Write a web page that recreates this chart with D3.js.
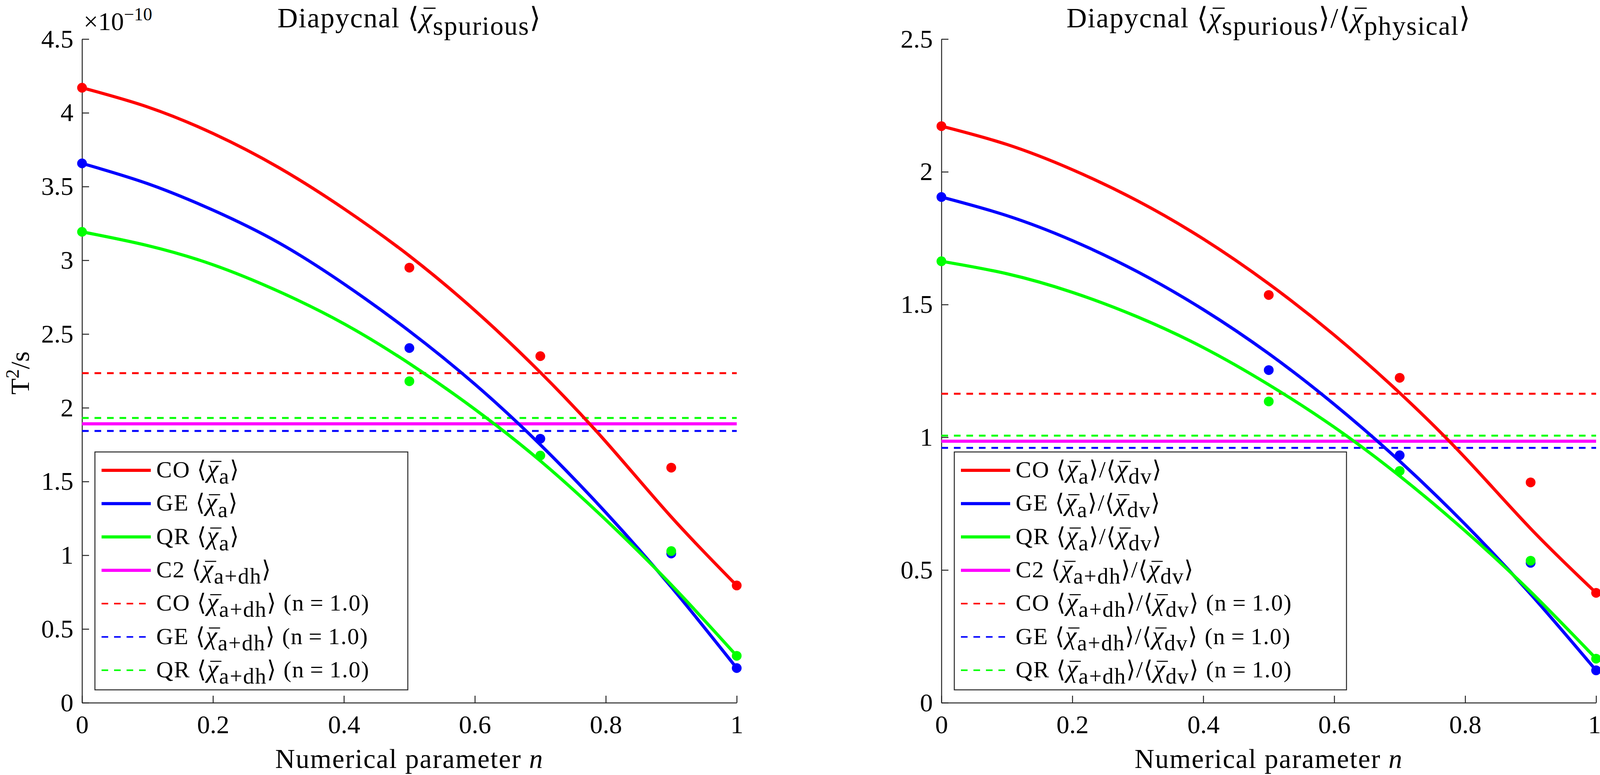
<!DOCTYPE html>
<html>
<head>
<meta charset="utf-8">
<script src="https://cdn.jsdelivr.net/npm/d3@7"></script>
<style>
  body { margin: 0; background: #fff; }
  text { font-family: "Liberation Serif", "DejaVu Serif", serif; fill: #000; white-space: pre; }
</style>
</head>
<body>
<script>
//values
var nSamples = [0, 0.5, 0.7, 0.9, 1.0];
var nFit = [0, 0.1, 0.2, 0.3, 0.4, 0.5, 0.6, 0.7, 0.8, 0.9, 1.0];

//left panel, in units of 1e-10 T^2/s
var coSpurious = [4.17, 2.95, 2.35, 1.594, 0.795];
var geSpurious = [3.657, 2.405, 1.79, 1.012, 0.235];
var qrSpurious = [3.193, 2.18, 1.676, 1.028, 0.318];
var coSpuriousFit = [4.17, 4.04, 3.86, 3.63, 3.35, 3.03, 2.66, 2.24, 1.77, 1.26, 0.795];
var geSpuriousFit = [3.657, 3.52, 3.34, 3.12, 2.84, 2.52, 2.16, 1.75, 1.29, 0.785, 0.235];
var qrSpuriousFit = [3.193, 3.10, 2.97, 2.79, 2.57, 2.30, 1.99, 1.64, 1.24, 0.80, 0.318];
var c2Spurious = 1.891;
var dhSpurious = [2.235, 1.843, 1.931]; //CO, GE, QR with n=1.0

//right panel, spurious / physical
var coRatio = [2.172, 1.536, 1.224, 0.830, 0.414];
var geRatio = [1.905, 1.253, 0.932, 0.527, 0.122];
var qrRatio = [1.663, 1.135, 0.873, 0.535, 0.166];
var coRatioFit = [2.172, 2.103, 2.008, 1.890, 1.747, 1.578, 1.385, 1.167, 0.923, 0.656, 0.414];
var geRatioFit = [1.905, 1.835, 1.741, 1.623, 1.481, 1.315, 1.124, 0.910, 0.672, 0.409, 0.122];
var qrRatioFit = [1.663, 1.616, 1.546, 1.453, 1.338, 1.198, 1.038, 0.854, 0.647, 0.418, 0.166];
var c2Ratio = 0.985;
var dhRatio = [1.164, 0.960, 1.006];

var models = ["CO", "GE", "QR"];
var modelColors = ["#ff0000", "#0000ff", "#00ff00"];
var c2Color = "#ff00ff";
//legend order: 3 fits, C2, 3 dashed levels
var legendColors = modelColors.concat([c2Color], modelColors);

var xTicks = [0, 0.2, 0.4, 0.6, 0.8, 1];
var yTicksLeft = [0, 0.5, 1, 1.5, 2, 2.5, 3, 3.5, 4, 4.5];
var yTicksRight = [0, 0.5, 1, 1.5, 2, 2.5];

var width = 4101,
    height = 1984;

var svg = d3.select("body")
    .append("svg")
    .attr("width", width)
    .attr("height", height);

var axisColor = "#262626";
var plotW = 1676;

//writes a little latex-ish string into a text element
//parts: [string, kind], kind is r (roman), it (italic), chi (barred chi), sub, sup
function richText(textSel, parts, size, chiScale){
    chiScale = chiScale || 1;
    var shift = 0;
    var bars = [];
    var idx = 0;
    parts.forEach(function(p){
        var t = textSel.append("tspan").text(p[0]);
        var target = 0;
        if (p[1] == "sub") target = 0.27 * size;
        if (p[1] == "sup") target = -0.38 * size;
        if (target != shift) t.attr("dy", target - shift);
        shift = target;
        if (p[1] == "sub") t.style("font-size", (0.95 * size) + "px");
        if (p[1] == "sup") t.style("font-size", (0.7 * size) + "px");
        if (p[1] == "it" || p[1] == "chi") t.style("font-style", "italic");
        if (p[1] == "chi") t.style("font-size", (chiScale * size) + "px");
        if (p[1] == "chi") bars.push(idx);
        idx += p[0].length;
    });
    //bars over chi, measured from the laid out glyphs
    var node = textSel.node();
    var parent = d3.select(node.parentNode);
    bars.forEach(function(i){
        var a = node.getStartPositionOfChar(i),
            b = node.getEndPositionOfChar(i);
        parent.append("line")
            .attr("x1", a.x + 0.14 * size)
            .attr("x2", b.x + 0.1 * size)
            .attr("y1", a.y - 0.68 * size)
            .attr("y2", a.y - 0.68 * size)
            .attr("transform", textSel.attr("transform"))
            .attr("stroke", "#000")
            .attr("stroke-width", 0.045 * size);
    });
}

function chi(sub){
    return [["\u27E8", "r"], ["\u03C7", "chi"], [sub, "sub"], ["\u27E9", "r"]];
}

function drawPanel(cfg){
    var g = svg.append("g");

    var x = d3.scaleLinear().domain([0, 1]).range([cfg.left, cfg.left + plotW]);
    var y = d3.scaleLinear().domain([0, cfg.yMax]).range([1799, 100]);

    //axes, ticks point inwards like matlab
    var xAxis = g.append("g")
        .attr("transform", "translate(0,1799)")
        .call(d3.axisBottom(x).tickValues(xTicks).tickSizeInner(-18).tickSizeOuter(0).tickPadding(31)
            .tickFormat(function(d){ return d3.format("")(d); }));
    var yAxis = g.append("g")
        .attr("transform", "translate(" + cfg.left + ",0)")
        .call(d3.axisLeft(y).tickValues(cfg.yTicks).tickSizeInner(-18).tickSizeOuter(0).tickPadding(22)
            .tickFormat(function(d){ return d3.format("")(d); }));
    [xAxis, yAxis].forEach(function(a){
        a.selectAll("path, line").attr("stroke", axisColor).attr("stroke-width", 2.5);
        a.selectAll("text")
            .style("font-size", "66px")
            .style("font-family", "'Liberation Serif', serif")
            .attr("fill", axisColor);
    });
    //the last x label of the right panel sits at the page edge
    if (cfg.pinLastLabel) {
        xAxis.selectAll(".tick").filter(function(d){ return d == 1; }).select("text")
            .attr("text-anchor", "end")
            .attr("x", 12);
    }

    //horizontal reference levels (n=1.0)
    cfg.dh.forEach(function(v, i){
        g.append("line")
            .attr("x1", x(0)).attr("x2", x(1))
            .attr("y1", y(v)).attr("y2", y(v))
            .attr("stroke", modelColors[i])
            .attr("stroke-width", 5)
            .attr("stroke-dasharray", "17,15");
    });
    g.append("line")
        .attr("x1", x(0)).attr("x2", x(1))
        .attr("y1", y(cfg.c2)).attr("y2", y(cfg.c2))
        .attr("stroke", c2Color)
        .attr("stroke-width", 8);

    //fitted curves and the sample dots
    var line = d3.line()
        .x(function(d){ return x(d[0]); })
        .y(function(d){ return y(d[1]); })
        .curve(d3.curveNatural);

    cfg.fits.forEach(function(fit, i){
        g.append("path")
            .datum(d3.zip(nFit, fit))
            .attr("d", line)
            .attr("fill", "none")
            .attr("stroke", modelColors[i])
            .attr("stroke-width", 8);
    });
    cfg.pts.forEach(function(pts, i){
        g.selectAll(".dot" + i)
            .data(d3.zip(nSamples, pts))
            .enter()
            .append("circle")
            .attr("class", "dot" + i)
            .attr("cx", function(d){ return x(d[0]); })
            .attr("cy", function(d){ return y(d[1]); })
            .attr("r", 12.5)
            .attr("fill", modelColors[i]);
    });

    //title
    var title = g.append("text")
        .attr("x", cfg.left + plotW / 2)
        .attr("y", 70)
        .attr("text-anchor", "middle")
        .style("font-size", "72px")
        .style("letter-spacing", "2px");
    richText(title, cfg.title, 72);

    //x label
    var xl = g.append("text")
        .attr("x", cfg.left + plotW / 2)
        .attr("y", 1966)
        .attr("text-anchor", "middle")
        .style("font-size", "70px")
        .style("letter-spacing", "2px");
    richText(xl, [["Numerical parameter ", "r"], ["n", "it"]], 70);

    //legend
    var lg = g.append("g");
    var box = lg.append("rect")
        .attr("x", cfg.left + 33)
        .attr("y", 1157)
        .attr("height", 609)
        .attr("fill", "#fff")
        .attr("stroke", axisColor)
        .attr("stroke-width", 2.5);
    var maxRight = 0;
    cfg.legend.forEach(function(parts, i){
        var ly = 1204 + i * 85.3;
        var dashed = i > 3;
        lg.append("line")
            .attr("x1", cfg.left + 50).attr("x2", cfg.left + (dashed ? 163 : 176))
            .attr("y1", ly).attr("y2", ly)
            .attr("stroke", legendColors[i])
            .attr("stroke-width", dashed ? 4 : 8)
            .attr("stroke-dasharray", dashed ? "17,15" : null);
        var t = lg.append("text")
            .attr("x", cfg.left + 190)
            .attr("y", ly + 18)
            .style("font-size", "60px")
            .style("letter-spacing", "2px");
        richText(t, parts, 60, 1.1);
        var bb = t.node().getBBox();
        maxRight = Math.max(maxRight, bb.x + bb.width);
    });
    box.attr("width", Math.max(cfg.legendRight, maxRight + 20) - (cfg.left + 33));
}

var nEq = " (n\u2009=\u20091.0)";

var legendLeft = models.map(function(m){ return [[m + " ", "r"]].concat(chi("a")); })
    .concat([[["C2 ", "r"]].concat(chi("a+dh"))])
    .concat(models.map(function(m){ return [[m + " ", "r"]].concat(chi("a+dh"), [[nEq, "r"]]); }));

var legendRight = models.map(function(m){ return [[m + " ", "r"]].concat(chi("a"), [["/", "r"]], chi("dv")); })
    .concat([[["C2 ", "r"]].concat(chi("a+dh"), [["/", "r"]], chi("dv"))])
    .concat(models.map(function(m){ return [[m + " ", "r"]].concat(chi("a+dh"), [["/", "r"]], chi("dv"), [[nEq, "r"]]); }));

drawPanel({
    left: 210,
    yMax: 4.5,
    yTicks: yTicksLeft,
    pts: [coSpurious, geSpurious, qrSpurious],
    fits: [coSpuriousFit, geSpuriousFit, qrSpuriousFit],
    c2: c2Spurious,
    dh: dhSpurious,
    title: [["Diapycnal ", "r"]].concat(chi("spurious")),
    legend: legendLeft,
    legendRight: 1044
});

drawPanel({
    left: 2410,
    yMax: 2.5,
    yTicks: yTicksRight,
    pts: [coRatio, geRatio, qrRatio],
    fits: [coRatioFit, geRatioFit, qrRatioFit],
    c2: c2Ratio,
    dh: dhRatio,
    title: [["Diapycnal ", "r"]].concat(chi("spurious"), [["/", "r"]], chi("physical")),
    legend: legendRight,
    legendRight: 3447,
    pinLastLabel: true
});

//y label of the left panel
var yl = svg.append("text")
    .attr("transform", "translate(74,955) rotate(-90)")
    .attr("text-anchor", "middle")
    .style("font-size", "68px");
richText(yl, [["T", "r"], ["2", "sup"], ["/s", "r"]], 68);

//exponent above the left axis
var ex = svg.append("text")
    .attr("x", 214)
    .attr("y", 77)
    .attr("fill", axisColor)
    .style("font-size", "66px");
richText(ex, [["\u00D710", "r"], ["\u221210", "sup"]], 66);
</script>
</body>
</html>
